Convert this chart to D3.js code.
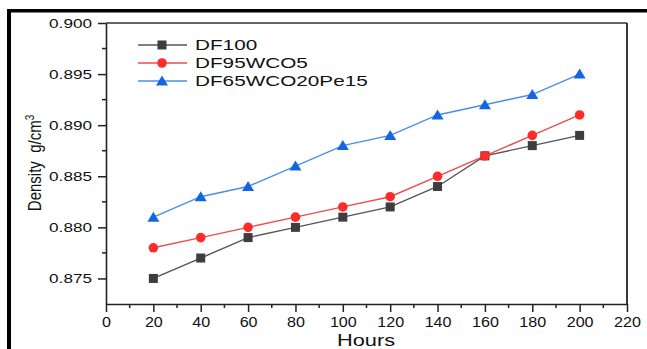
<!DOCTYPE html>
<html>
<head>
<meta charset="utf-8">
<script src="https://cdn.jsdelivr.net/npm/d3@7"></script>
<style>
  html, body { margin: 0; padding: 0; background: #fff; }
  svg text { font-family: "Liberation Sans", Arial, sans-serif; fill: #111; }
</style>
</head>
<body>
<svg id="chart" width="647" height="349"></svg>
<script>
(function () {
  'use strict';

  /* data */
  var hours   = [20, 40, 60, 80, 100, 120, 140, 160, 180, 200];
  var df100   = [0.875, 0.877, 0.879, 0.880, 0.881, 0.882, 0.884, 0.887, 0.888, 0.889];
  var df95    = [0.878, 0.879, 0.880, 0.881, 0.882, 0.883, 0.885, 0.887, 0.889, 0.891];
  var df65    = [0.881, 0.883, 0.884, 0.886, 0.888, 0.889, 0.891, 0.892, 0.893, 0.895];
  var seriesNames = ['DF100', 'DF95WCO5', 'DF65WCO20Pe15'];
  var xTicks  = [0, 20, 40, 60, 80, 100, 120, 140, 160, 180, 200, 220];
  var yTicks  = [0.875, 0.880, 0.885, 0.890, 0.895, 0.900];

  var series = [
    { name: seriesNames[0], values: df100, line: '#555', fill: '#3d3d3d', shape: 'square' },
    { name: seriesNames[1], values: df95,  line: '#f04a4a', fill: '#ff2a2a', shape: 'circle' },
    { name: seriesNames[2], values: df65,  line: '#4a8fe6', fill: '#1466e0', shape: 'triangle' }
  ];

  var m = { left: 106, top: 23, right: 627, bottom: 304 };
  var svg = d3.select('#chart');

  /* outer black border (top + left) */
  svg.append('rect').attr('x', 7).attr('y', 9).attr('width', 640).attr('height', 3.5).attr('fill', '#000');
  svg.append('rect').attr('x', 7).attr('y', 9).attr('width', 4).attr('height', 340).attr('fill', '#000');

  var x = d3.scaleLinear().domain([0, 220]).range([m.left, m.right]);
  var y = d3.scaleLinear().domain([0.8725, 0.900]).range([m.bottom, m.top]);

  /* stretch text horizontally like the reference */
  function stretch(sel, k) {
    sel.each(function () {
      var w = this.getComputedTextLength();
      d3.select(this).attr('textLength', w * k).attr('lengthAdjust', 'spacingAndGlyphs');
    });
  }

  /* minor ticks */
  var g = svg.append('g');
  g.selectAll('.xminor').data(d3.range(10, 220, 20)).enter().append('line')
    .attr('x1', function (d) { return x(d); }).attr('x2', function (d) { return x(d); })
    .attr('y1', m.bottom).attr('y2', m.bottom + 4)
    .attr('stroke', '#222').attr('stroke-width', 1.5);
  g.selectAll('.yminor').data([0.8775, 0.8825, 0.8875, 0.8925, 0.8975]).enter().append('line')
    .attr('y1', function (d) { return y(d); }).attr('y2', function (d) { return y(d); })
    .attr('x1', m.left).attr('x2', m.left - 4)
    .attr('stroke', '#222').attr('stroke-width', 1.5);

  /* axes */
  var xAxis = svg.append('g').attr('transform', 'translate(0,' + m.bottom + ')')
    .call(d3.axisBottom(x).tickValues(xTicks).tickSize(8).tickSizeOuter(0).tickPadding(5));
  var yAxis = svg.append('g').attr('transform', 'translate(' + m.left + ',0)')
    .call(d3.axisLeft(y).tickValues(yTicks).tickFormat(d3.format('.3f')).tickSize(8).tickSizeOuter(0).tickPadding(6));

  [xAxis, yAxis].forEach(function (ax) {
    ax.select('.domain').attr('stroke', '#222').attr('stroke-width', 1.6);
    ax.selectAll('.tick line').attr('stroke', '#222').attr('stroke-width', 1.5);
    ax.selectAll('text').attr('font-size', 14).attr('fill', '#222')
      .attr('font-family', '"Liberation Sans", Arial, sans-serif');
  });
  xAxis.selectAll('text').attr('font-size', 14).call(stretch, 1.15);
  yAxis.selectAll('text').attr('font-size', 13.5).call(stretch, 1.27);
  yAxis.selectAll('text').attr('text-anchor', 'end');

  /* top + right frame */
  svg.append('line').attr('x1', m.left).attr('x2', m.right).attr('y1', m.top).attr('y2', m.top)
    .attr('stroke', '#333').attr('stroke-width', 1.6);
  svg.append('line').attr('x1', m.right).attr('x2', m.right).attr('y1', m.top).attr('y2', m.bottom)
    .attr('stroke', '#222').attr('stroke-width', 1.8);

  /* axis titles */
  svg.append('text').attr('x', 366).attr('y', 346).attr('text-anchor', 'middle')
    .attr('font-size', 17).text('Hours').call(stretch, 1.28);

  var yl = svg.append('text').attr('transform', 'translate(41,163) rotate(-90) scale(1,1.25)')
    .attr('text-anchor', 'middle').attr('font-size', 15);
  yl.append('tspan').text('Density\u00a0\u00a0g/cm');
  yl.append('tspan').attr('font-size', 10).attr('dy', -6).text('3');

  /* markers */
  function drawMarker(sel, shape, fill) {
    if (shape === 'square') {
      sel.append('rect').attr('x', -4.5).attr('y', -4.5).attr('width', 9).attr('height', 9).attr('fill', fill);
    } else if (shape === 'circle') {
      sel.append('circle').attr('r', 4.8).attr('fill', fill);
    } else {
      sel.append('path').attr('d', 'M0,-5.5L6,4.5L-6,4.5Z').attr('fill', fill);
    }
  }

  var line = d3.line()
    .x(function (d, i) { return x(hours[i]); })
    .y(function (d) { return y(d); });

  series.forEach(function (s) {
    svg.append('path').datum(s.values).attr('d', line)
      .attr('fill', 'none').attr('stroke', s.line).attr('stroke-width', 1.4);
    s.values.forEach(function (v, i) {
      var mk = svg.append('g').attr('transform', 'translate(' + x(hours[i]) + ',' + y(v) + ')');
      drawMarker(mk, s.shape, s.fill);
    });
  });

  /* legend */
  var legY = [45, 63, 81];
  series.forEach(function (s, i) {
    var lg = svg.append('g').attr('transform', 'translate(0,' + legY[i] + ')');
    lg.append('line').attr('x1', 138).attr('x2', 187).attr('y1', 0).attr('y2', 0)
      .attr('stroke', s.line).attr('stroke-width', 1.4);
    var mk = lg.append('g').attr('transform', 'translate(162,0)');
    drawMarker(mk, s.shape, s.fill);
    lg.append('text').attr('x', 195).attr('y', 5).attr('font-size', 14).attr('fill', '#111')
      .text(s.name).call(stretch, 1.48);
  });
})();
</script>
</body>
</html>
